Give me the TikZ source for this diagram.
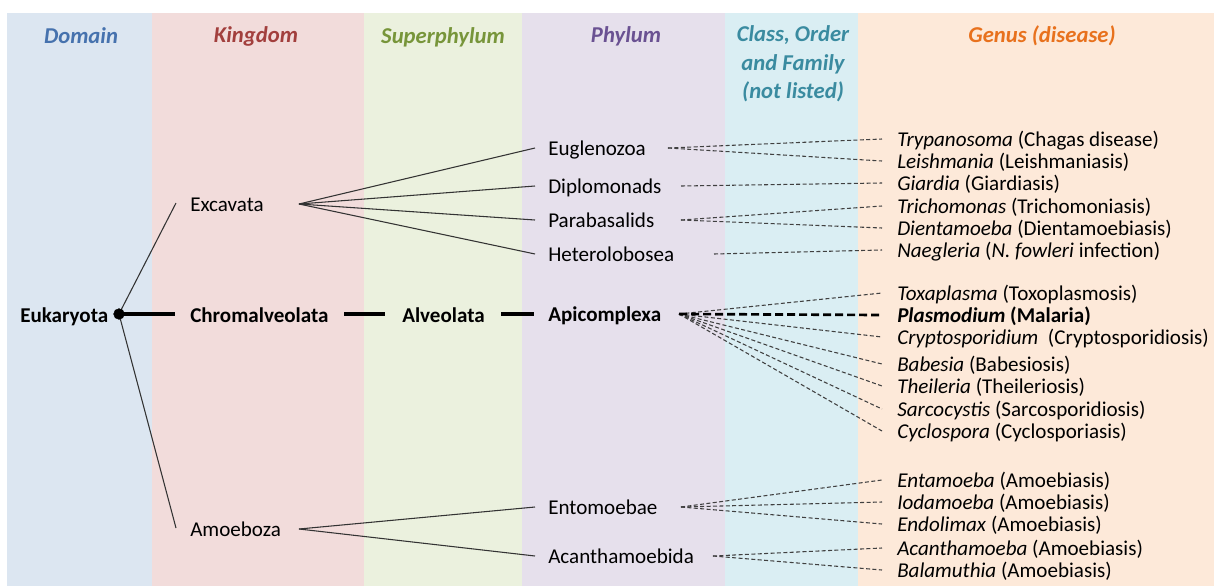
\documentclass[tikz,border=0pt]{standalone}
\usepackage{fontspec}
\setmainfont{Carlito}
\usetikzlibrary{backgrounds,shapes}
\pgfdeclarelayer{edgelayer}
\pgfdeclarelayer{nodelayer}
\pgfsetlayers{edgelayer,nodelayer,main}
\definecolor{domfill}{HTML}{DCE6F1}
\definecolor{kingfill}{HTML}{F2DCDB}
\definecolor{supfill}{HTML}{EBF1DE}
\definecolor{phyfill}{HTML}{E6E0EC}
\definecolor{clsfill}{HTML}{DAEEF3}
\definecolor{genfill}{HTML}{FDE9D9}
\definecolor{domcol}{HTML}{4672AE}
\definecolor{kingcol}{HTML}{A23F3D}
\definecolor{supcol}{HTML}{77953A}
\definecolor{phycol}{HTML}{6A5192}
\definecolor{clscol}{HTML}{3A8BA0}
\definecolor{gencol}{HTML}{E8711D}
\tikzset{font=\fontsize{15.8}{18}\selectfont}
\tikzstyle{none}=[inner sep=0pt]
\tikzstyle{circ}=[circle,fill=black,draw,inner sep=0pt,minimum size=8pt]
\tikzstyle{head}=[inner sep=0pt,align=center,font=\fontsize{17}{21.4}\selectfont\bfseries\itshape]
\tikzstyle{taxon}=[inner sep=0pt,anchor=base west]
\tikzstyle{major}=[taxon,font=\fontsize{15.8}{18}\selectfont\bfseries]
\tikzstyle{band}=[draw=none]
\tikzstyle{branch}=[draw=black!80,line width=0.8pt]
\tikzstyle{stem}=[draw=black,line width=2.3pt]
\tikzstyle{link}=[draw=black!75,line width=0.8pt,dash pattern=on 3pt off 1.8pt]
\tikzstyle{main link}=[draw=black,line width=2pt,dash pattern=on 6pt off 3pt]

\begin{document}
\begin{tikzpicture}[x=0.75pt,y=0.75pt]
	\useasboundingbox (0,0) rectangle (1214,-586);
	\begin{pgfonlayer}{nodelayer}
		\node [style=head, text=domcol] (0) at (81, -36) {Domain};
		\node [style=head, text=kingcol] (1) at (256, -36) {Kingdom};
		\node [style=head, text=supcol] (2) at (443, -37) {Superphylum};
		\node [style=head, text=phycol] (3) at (626, -36) {Phylum};
		\node [style=head, text=clscol] (4) at (793, -64) {Class, Order\\and Family\\(not listed)};
		\node [style=head, text=gencol] (5) at (1042, -36) {Genus (disease)};
		\node [style=major] (6) at (20, -322) {Eukaryota};
		\node [style=circ] (7) at (119, -314) {};
		\node [style=taxon] (8) at (190, -211) {Excavata};
		\node [style=major] (9) at (190, -322) {Chromalveolata};
		\node [style=taxon] (10) at (190, -536) {Amoeboza};
		\node [style=major] (11) at (402, -322) {Alveolata};
		\node [style=taxon] (12) at (548, -155) {Euglenozoa};
		\node [style=taxon] (13) at (548, -193) {Diplomonads};
		\node [style=taxon] (14) at (548, -227) {Parabasalids};
		\node [style=taxon] (15) at (548, -261) {Heterolobosea};
		\node [style=major] (16) at (548, -321) {Apicomplexa};
		\node [style=taxon] (17) at (548, -514) {Entomoebae};
		\node [style=taxon] (18) at (548, -563) {Acanthamoebida};
		\node [style=taxon] (19) at (897, -146) {\textit{Trypanosoma} (Chagas disease)};
		\node [style=taxon] (20) at (897, -168) {\textit{Leishmania} (Leishmaniasis)};
		\node [style=taxon] (21) at (897, -190) {\textit{Giardia} (Giardiasis)};
		\node [style=taxon] (22) at (897, -213) {\textit{Trichomonas} (Trichomoniasis)};
		\node [style=taxon] (23) at (897, -235) {\textit{Dientamoeba} (Dientamoebiasis)};
		\node [style=taxon] (24) at (897, -257) {\textit{Naegleria} (\textit{N. fowleri} infection)};
		\node [style=taxon] (25) at (897, -300) {\textit{Toxaplasma} (Toxoplasmosis)};
		\node [style=major] (26) at (897, -322) {\textit{Plasmodium} (Malaria)};
		\node [style=taxon] (27) at (897, -344) {\textit{Cryptosporidium}\ \ (Cryptosporidiosis)};
		\node [style=taxon] (28) at (897, -371) {\textit{Babesia} (Babesiosis)};
		\node [style=taxon] (29) at (897, -393) {\textit{Theileria} (Theileriosis)};
		\node [style=taxon] (30) at (897, -416) {\textit{Sarcocystis} (Sarcosporidiosis)};
		\node [style=taxon] (31) at (897, -438) {\textit{Cyclospora} (Cyclosporiasis)};
		\node [style=taxon] (32) at (897, -487) {\textit{Entamoeba} (Amoebiasis)};
		\node [style=taxon] (33) at (897, -509) {\textit{Iodamoeba} (Amoebiasis)};
		\node [style=taxon] (34) at (897, -531) {\textit{Endolimax} (Amoebiasis)};
		\node [style=taxon] (35) at (897, -555) {\textit{Acanthamoeba} (Amoebiasis)};
		\node [style=taxon] (36) at (897, -577) {\textit{Balamuthia} (Amoebiasis)};
		\node [style=none] (37) at (175, -314) {};
		\node [style=none] (38) at (176, -203) {};
		\node [style=none] (39) at (176, -528) {};
		\node [style=none] (40) at (344, -314) {};
		\node [style=none] (41) at (385, -314) {};
		\node [style=none] (42) at (501, -314) {};
		\node [style=none] (43) at (534, -314) {};
		\node [style=none] (44) at (299, -204) {};
		\node [style=none] (45) at (535, -148) {};
		\node [style=none] (46) at (535, -186) {};
		\node [style=none] (47) at (535, -220) {};
		\node [style=none] (48) at (535, -254) {};
		\node [style=none] (49) at (299, -529) {};
		\node [style=none] (50) at (535, -507) {};
		\node [style=none] (51) at (535, -556) {};
		\node [style=none] (52) at (668, -148) {};
		\node [style=none] (53) at (681, -186) {};
		\node [style=none] (54) at (681, -220) {};
		\node [style=none] (55) at (714, -254) {};
		\node [style=none] (56) at (679, -314) {};
		\node [style=none] (57) at (681, -507) {};
		\node [style=none] (58) at (713, -556) {};
		\node [style=none] (59) at (882, -139) {};
		\node [style=none] (60) at (882, -161) {};
		\node [style=none] (61) at (882, -183) {};
		\node [style=none] (62) at (882, -206) {};
		\node [style=none] (63) at (882, -228) {};
		\node [style=none] (64) at (882, -250) {};
		\node [style=none] (65) at (882, -293) {};
		\node [style=none] (66) at (882, -315) {};
		\node [style=none] (67) at (882, -337) {};
		\node [style=none] (68) at (882, -364) {};
		\node [style=none] (69) at (882, -386) {};
		\node [style=none] (70) at (882, -409) {};
		\node [style=none] (71) at (882, -431) {};
		\node [style=none] (72) at (882, -480) {};
		\node [style=none] (73) at (882, -502) {};
		\node [style=none] (74) at (882, -524) {};
		\node [style=none] (75) at (882, -548) {};
		\node [style=none] (76) at (882, -570) {};
	\end{pgfonlayer}
	\begin{pgfonlayer}{edgelayer}
		\fill [style=band, domfill] (7, -13) rectangle (152, -586);
		\fill [style=band, kingfill] (152, -13) rectangle (364, -586);
		\fill [style=band, supfill] (364, -13) rectangle (522, -586);
		\fill [style=band, phyfill] (522, -13) rectangle (725, -586);
		\fill [style=band, clsfill] (725, -13) rectangle (858, -586);
		\fill [style=band, genfill] (858, -13) rectangle (1214, -586);
		\draw [style=stem] (7.center) to (37.center);
		\draw [style=stem] (40.center) to (41.center);
		\draw [style=stem] (42.center) to (43.center);
		\draw [style=branch] (7.center) to (38.center);
		\draw [style=branch] (7.center) to (39.center);
		\foreach \n in {45,46,47,48}
			\draw [style=branch] (44.center) to (\n.center);
		\draw [style=branch] (49.center) to (50.center);
		\draw [style=branch] (49.center) to (51.center);
		\draw [style=link] (52.center) to (59.center);
		\draw [style=link] (52.center) to (60.center);
		\draw [style=link] (53.center) to (61.center);
		\draw [style=link] (54.center) to (62.center);
		\draw [style=link] (54.center) to (63.center);
		\draw [style=link] (55.center) to (64.center);
		\foreach \n in {65,67,68,69,70,71}
			\draw [style=link] (56.center) to (\n.center);
		\draw [style=main link] (56.center) to (66.center);
		\foreach \n in {72,73,74}
			\draw [style=link] (57.center) to (\n.center);
		\draw [style=link] (58.center) to (75.center);
		\draw [style=link] (58.center) to (76.center);
	\end{pgfonlayer}
\end{tikzpicture}
\end{document}
